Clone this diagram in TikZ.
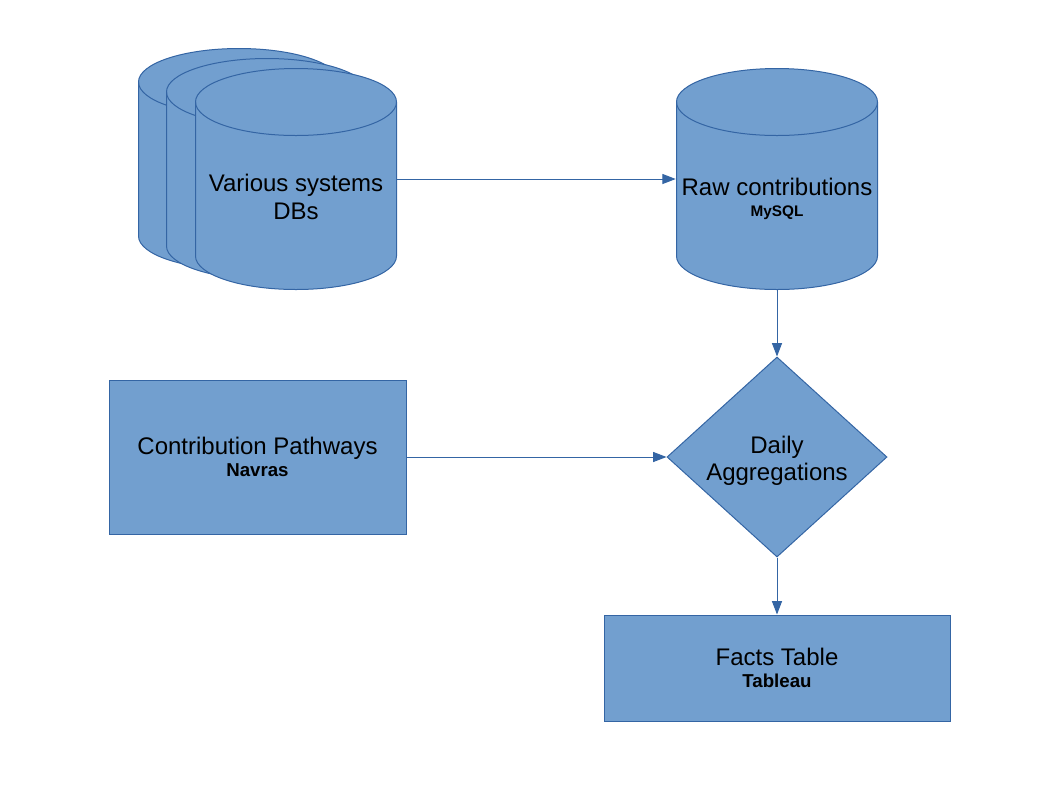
\documentclass[tikz,border=0pt]{standalone}
\usepackage{fontspec}
\setmainfont{Liberation Sans}
\usetikzlibrary{shapes,arrows.meta,positioning}
\definecolor{flowfill}{HTML}{729FCF}
\definecolor{flowline}{HTML}{3465A4}
\newcommand{\subname}[2][14]{{\fontsize{#1}{14}\selectfont\bfseries #2}}

\tikzset{
  every node/.style={font=\fontsize{18}{21}\selectfont, align=center, inner sep=0pt},
  flowshape/.style={draw=flowline, fill=flowfill, line width=0.75pt},
  drum/.style={rectangle, minimum width=151.5pt, minimum height=166.5pt, text depth=0pt,
    path picture={
      \path[fill=flowfill, draw=flowline, line width=0.75pt]
        ([shift={(0.375pt,-25.5pt)}]path picture bounding box.north west)
        -- ([shift={(0.375pt,25.5pt)}]path picture bounding box.south west)
        arc[start angle=180, end angle=360, x radius=75.375pt, y radius=25.125pt]
        -- ([shift={(-0.375pt,-25.5pt)}]path picture bounding box.north east)
        arc[start angle=0, end angle=180, x radius=75.375pt, y radius=25.125pt]
        -- cycle;
      \draw[flowline, line width=0.75pt]
        ([shift={(0.375pt,-25.5pt)}]path picture bounding box.north west)
        arc[start angle=180, end angle=360, x radius=75.375pt, y radius=25.125pt];
    }},
  procbox/.style={flowshape, rectangle},
  decide/.style={flowshape, diamond, minimum width=165pt, minimum height=150pt},
  flow/.style={draw=flowline, line width=0.75pt, -{Triangle[length=10pt,width=7.5pt]}}
}

\begin{document}
\begin{tikzpicture}[x=0.75pt, y=-0.75pt]
\useasboundingbox (0,0) rectangle (1058,794);

% sources
\node[drum] (db back) at (239,159) {};
\node[drum] (db mid) at (267,169) {};
\node[drum, text height=60.8pt] (db) at (296,179) {Various systems\\DBs};

\node[drum, text height=56.3pt] (raw) at (777,179)
  {Raw contributions\\[-5pt]\subname[11.5]{MySQL}};

\node[procbox, minimum width=222.75pt, minimum height=115.5pt] (paths) at (257.5,457)
  {Contribution Pathways\\[-5pt]\subname{Navras}};

\node[decide, text height=35.3pt, text depth=0pt] (agg) at (777,457) {Daily\\[-1pt]Aggregations};

\node[procbox, minimum width=259.5pt, minimum height=79.5pt] (facts) at (777,668)
  {Facts Table\\[-5pt]\subname{Tableau}};

% connectors
\draw[flow] (db.east) -- (raw.west);
\draw[flow] (raw.south) -- (agg.north);
\draw[flow] (paths.east) -- (agg.west);
\draw[flow] (agg.south) -- (facts.north);

\end{tikzpicture}
\end{document}
